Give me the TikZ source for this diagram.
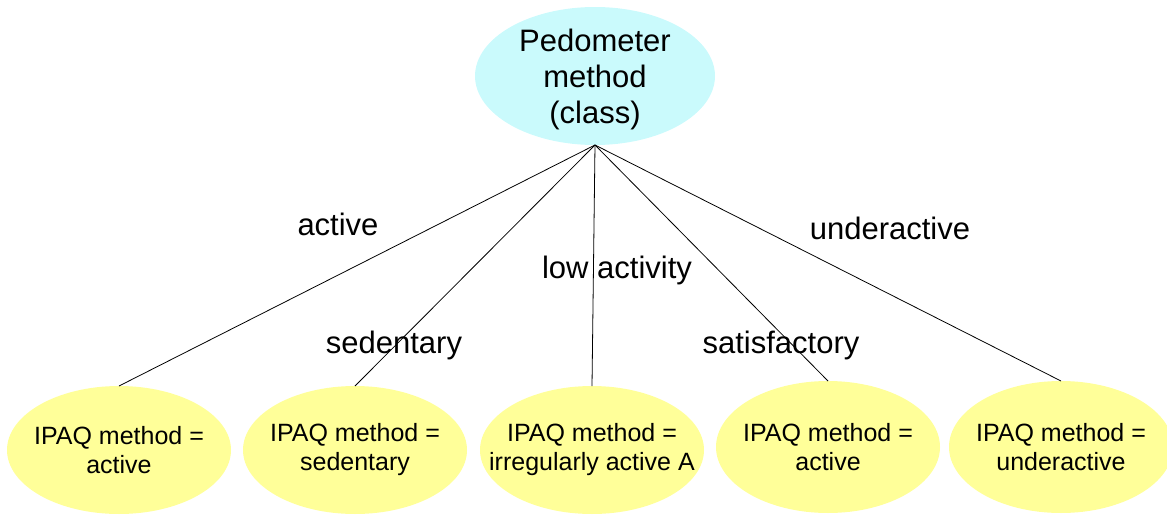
\documentclass[tikz,border=0pt]{standalone}
\usepackage{fontspec}
\setmainfont{Liberation Sans}
\usetikzlibrary{shapes.geometric}
\definecolor{rootcyan}{RGB}{202,250,252}
\definecolor{leafyellow}{RGB}{255,255,153}
\tikzset{
    rootnode/.style={ellipse, fill=rootcyan, inner sep=0pt, outer sep=0pt,
        minimum width=240pt, minimum height=138pt},
    leafnode/.style={ellipse, fill=leafyellow, inner sep=0pt, outer sep=0pt,
        minimum width=224pt, minimum height=128pt},
    roottext/.style={align=center, yshift=-3pt, font=\fontsize{31}{36}\selectfont},
    leaftext/.style={align=center, font=\fontsize{25}{29}\selectfont},
    edgelabel/.style={font=\fontsize{31}{36}\selectfont}
}
\begin{document}
\begin{tikzpicture}[x=1pt, y=-1pt]
    \useasboundingbox (0, 0) rectangle (1167, 514);
    \node[rootnode, label={[roottext]center:Pedometer\\method\\(class)}] (root) at (595, 76) {};
    \node[leafnode, label={[leaftext]center:IPAQ method =\\active}] (act1) at (119, 450) {};
    \node[leafnode, label={[leaftext]center:IPAQ method =\\sedentary}] (sed) at (355, 450) {};
    \node[leafnode, label={[leaftext]center:IPAQ method =\\irregularly active A}] (irr) at (592, 450) {};
    \node[leafnode, minimum height=132pt, label={[leaftext]center:IPAQ method =\\active}] (act2) at (828, 447) {};
    \node[leafnode, minimum height=132pt, label={[leaftext]center:IPAQ method =\\underactive}] (under) at (1061, 447) {};
    \draw[line width=0.8pt] (root.south) -- (act1.north);
    \draw[line width=0.8pt] (root.south) -- (sed.north);
    \draw[line width=0.8pt] (root.south) -- (irr.north);
    \draw[line width=0.8pt] (root.south) -- (act2.north);
    \draw[line width=0.8pt] (root.south) -- (under.north);
    \node[edgelabel] (lactive) at (338, 224) {active};
    \node[edgelabel] (lunder) at (890, 228) {underactive};
    \node[edgelabel] (llow) at (617, 270) {low activity};
    \node[edgelabel] (lsed) at (394, 345) {sedentary};
    \node[edgelabel] (lsat) at (781, 345) {satisfactory};
\end{tikzpicture}
\end{document}
